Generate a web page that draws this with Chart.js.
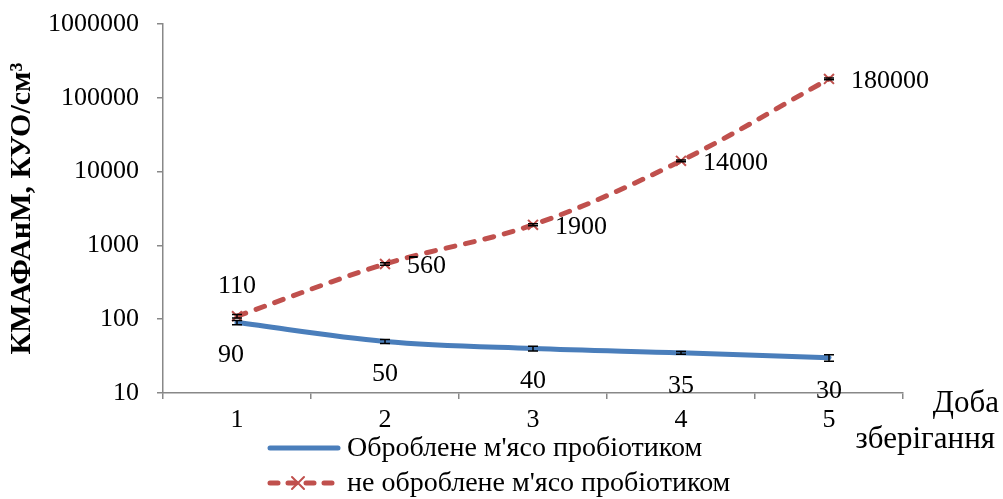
<!DOCTYPE html>
<html>
<head>
<meta charset="utf-8">
<script src="https://cdn.jsdelivr.net/npm/chart.js@4"></script>
<style>
    html, body { margin: 0; padding: 0; background: #fff; }
    #wrap { width: 1003px; height: 499px; position: relative; }
</style>
</head>
<body>
<div id="wrap"><canvas id="chart" width="1003" height="499"></canvas></div>
<script>
const days = ["1", "2", "3", "4", "5"];
const treated = [90, 50, 40, 35, 30];
const untreated = [110, 560, 1900, 14000, 180000];
const treatedErr = [6, 3, 3, 1.5, 3];
const untreatedErr = [6, 20, 60, 400, 5000];
const yTicks = [10, 100, 1000, 10000, 100000, 1000000];
const seriesNames = ["Оброблене м'ясо пробіотиком", "не оброблене м'ясо пробіотиком"];
const yTitle = "КМАФАнМ, КУО/см³";
const xTitle = ["Доба", "зберігання"];

const FONT = "'Liberation Serif', 'Times New Roman', serif";
const BLUE = "#4A7EBB";
const RED = "#C0504D";

// error bars, value labels, legend and x title
const extras = {
    id: "extras",
    afterDatasetsDraw(chart) {
        const { ctx } = chart;
        const y = chart.scales.y;
        ctx.save();

        // error bars
        ctx.strokeStyle = "#000";
        ctx.lineWidth = 1.5;
        [[0, treated, treatedErr], [1, untreated, untreatedErr]].forEach(([di, vals, errs]) => {
            const meta = chart.getDatasetMeta(di);
            meta.data.forEach((pt, i) => {
                const top = y.getPixelForValue(vals[i] + errs[i]);
                const bot = y.getPixelForValue(vals[i] - errs[i]);
                ctx.beginPath();
                ctx.moveTo(pt.x, top); ctx.lineTo(pt.x, bot);
                ctx.moveTo(pt.x - 5, top); ctx.lineTo(pt.x + 5, top);
                ctx.moveTo(pt.x - 5, bot); ctx.lineTo(pt.x + 5, bot);
                ctx.stroke();
            });
        });

        // value labels
        ctx.fillStyle = "#000";
        ctx.font = "26px " + FONT;
        ctx.textBaseline = "middle";
        chart.getDatasetMeta(0).data.forEach((pt, i) => {
            ctx.textAlign = "center";
            ctx.fillText(String(treated[i]), i === 0 ? pt.x - 6 : pt.x, pt.y + 33);
        });
        chart.getDatasetMeta(1).data.forEach((pt, i) => {
            if (i === 0) {
                ctx.textAlign = "center";
                ctx.fillText(String(untreated[i]), pt.x, pt.y - 30);
            } else {
                ctx.textAlign = "left";
                ctx.fillText(String(untreated[i]), pt.x + 22, pt.y + 2);
            }
        });

        // x axis title
        ctx.font = "31px " + FONT;
        ctx.textAlign = "right";
        ctx.fillText(xTitle[0], 999, 404);
        ctx.fillText(xTitle[1], 995, 440);

        // legend
        ctx.font = "28px " + FONT;
        ctx.textAlign = "left";
        ctx.lineCap = "round";
        ctx.lineWidth = 5;
        ctx.strokeStyle = BLUE;
        ctx.beginPath();
        ctx.moveTo(270, 448); ctx.lineTo(338, 448);
        ctx.stroke();
        ctx.fillText(seriesNames[0], 347, 449);

        ctx.strokeStyle = RED;
        ctx.setLineDash([8, 10]);
        ctx.beginPath();
        ctx.moveTo(270, 483); ctx.lineTo(334, 483);
        ctx.stroke();
        ctx.setLineDash([]);
        ctx.lineWidth = 2;
        ctx.beginPath();
        ctx.moveTo(292, 477); ctx.lineTo(304, 489);
        ctx.moveTo(304, 477); ctx.lineTo(292, 489);
        ctx.stroke();
        ctx.fillText(seriesNames[1], 347, 484);

        ctx.restore();
    }
};

new Chart(document.getElementById("chart"), {
    type: "line",
    data: {
        labels: days,
        datasets: [
            {
                label: seriesNames[0],
                data: treated,
                borderColor: BLUE,
                backgroundColor: BLUE,
                borderWidth: 5,
                borderCapStyle: "round",
                pointRadius: 0,
                tension: 0.35,
            },
            {
                label: seriesNames[1],
                data: untreated,
                borderColor: RED,
                backgroundColor: RED,
                borderWidth: 5,
                borderDash: [9, 11],
                borderCapStyle: "round",
                pointStyle: "crossRot",
                pointRadius: 7,
                pointBorderWidth: 2,
                pointBorderColor: RED,
                tension: 0.35,
            },
        ],
    },
    options: {
        responsive: false,
        animation: false,
        layout: { padding: { left: 0, right: 100, top: 24, bottom: 0 } },
        plugins: {
            legend: { display: false },
            tooltip: { enabled: false },
        },
        scales: {
            x: {
                offset: true,
                grid: { drawOnChartArea: false, offset: true, tickLength: 6, color: "#888", lineWidth: 1.5 },
                border: { color: "#888", width: 1.5 },
                ticks: { color: "#000", font: { family: FONT, size: 26 }, padding: 6 },
                afterFit: (s) => { s.height = 106; s.paddingLeft = 0; s.paddingRight = 0; },
            },
            y: {
                type: "logarithmic",
                min: 10,
                max: 1000000,
                afterBuildTicks: (s) => { s.ticks = yTicks.map((v) => ({ value: v })); },
                grid: { drawOnChartArea: false, tickLength: 6, color: "#888", lineWidth: 1.5 },
                border: { color: "#888", width: 1.5 },
                ticks: {
                    color: "#000",
                    font: { family: FONT, size: 26 },
                    padding: 18,
                    callback: (v) => String(v),
                },
                title: {
                    display: true,
                    text: yTitle,
                    color: "#000",
                    font: { family: FONT, size: 30, weight: "bold" },
                    padding: { top: 4, bottom: 0 },
                },
                afterFit: (s) => { s.width = 163; s.paddingTop = 0; s.paddingBottom = 0; },
            },
        },
    },
    plugins: [extras],
});
</script>
</body>
</html>
